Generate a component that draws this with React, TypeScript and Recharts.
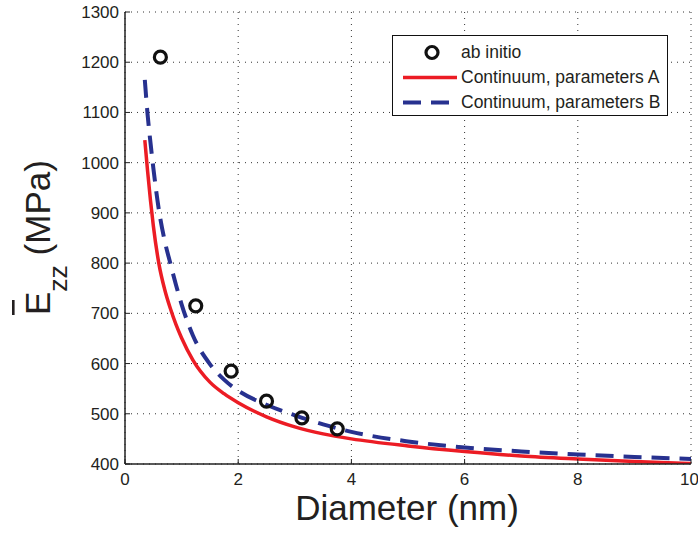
import React from 'react';
import { ComposedChart, Line, Scatter, XAxis, YAxis, CartesianGrid, Legend } from 'recharts';

const abInitioDiam = [0.625, 1.25, 1.875, 2.5, 3.125, 3.75];
const abInitioVal = [1210, 715, 585, 525, 492, 470];

const contADiam = [0.35, 0.4, 0.45, 0.5, 0.6, 0.7, 0.8, 0.9, 1.0, 1.2, 1.5, 1.75, 2.0, 2.5, 3.0, 3.5, 4.0, 5.0, 6.0, 7.0, 8.0, 9.0, 10.0];
const contAVal = [1045, 982, 925, 875, 798, 748, 710, 678, 651, 607, 563, 540, 522, 494, 474, 460, 450, 436, 425, 416, 410, 405, 401];

const contBDiam = [0.35, 0.4, 0.45, 0.5, 0.6, 0.7, 0.8, 0.9, 1.0, 1.2, 1.5, 1.75, 2.0, 2.5, 3.0, 3.5, 4.0, 5.0, 6.0, 7.0, 8.0, 9.0, 10.0];
const contBVal = [1165, 1095, 1040, 990, 905, 845, 800, 757, 718, 656, 599, 568, 546, 518, 497, 479, 464, 445, 433, 425, 419, 414, 410];

const xTicks = [0, 2, 4, 6, 8, 10];
const yTicks = [400, 500, 600, 700, 800, 900, 1000, 1100, 1200, 1300];

const seriesNames = ['ab initio', 'Continuum, parameters A', 'Continuum, parameters B'];

const abInitioData = abInitioDiam.map((d, i) => ({ d, v: abInitioVal[i] }));
const contAData = contADiam.map((d, i) => ({ d, v: contAVal[i] }));
const contBData = contBDiam.map((d, i) => ({ d, v: contBVal[i] }));

const FONT = '"Liberation Sans", Arial, sans-serif';
const RED = '#ec1c24';
const BLUE = '#27318f';
const TXT = '#231f20';

const Ring = (props: any) => {
  const { cx, cy } = props;
  if (cx == null || cy == null) return <g />;
  return <circle cx={cx} cy={cy} r={6} fill="none" stroke="#111" strokeWidth={3.2} />;
};

const LegendBox = () => (
  <div
    style={{
      width: 274,
      height: 79,
      border: '1px solid #111',
      background: '#fff',
      fontFamily: FONT,
      fontSize: 17.5,
      color: TXT,
      boxSizing: 'content-box',
    }}
  >
    {[0, 1, 2].map((i) => (
      <div key={i} style={{ display: 'flex', alignItems: 'center', height: 25, marginTop: i === 0 ? 4 : 0 }}>
        <svg width={68} height={25} style={{ display: 'block' }}>
          {i === 0 && <circle cx={39} cy={12.5} r={6} fill="none" stroke="#111" strokeWidth={3.2} />}
          {i === 1 && <line x1={10} x2={64} y1={12.5} y2={12.5} stroke={RED} strokeWidth={3.5} />}
          {i === 2 && <line x1={10} x2={64} y1={12.5} y2={12.5} stroke={BLUE} strokeWidth={4} strokeDasharray="18 10" />}
        </svg>
        <span style={{ lineHeight: '25px', whiteSpace: 'nowrap' }}>{seriesNames[i]}</span>
      </div>
    ))}
  </div>
);

const YLabel = () => (
  <g>
    <text
      transform="translate(50,315) rotate(-90)"
      x={0}
      y={0}
      fontFamily={FONT}
      fontSize={35}
      fill={TXT}
    >
      <tspan>E</tspan>
      <tspan fontSize={26.5} dy={16.5}>zz</tspan>
      <tspan dy={-16.5}> (MPa)</tspan>
    </text>
    <rect x={12} y={300} width={2.6} height={15} fill={TXT} />
  </g>
);

const XLabel = () => (
  <text x={407} y={520} textAnchor="middle" fontFamily={FONT} fontSize={35} fill={TXT}>
    Diameter (nm)
  </text>
);

const NoTick = () => <g />;

export default function App() {
  return (
    <div style={{ position: 'absolute', left: 0, top: 0, background: '#fff' }}>
      <ComposedChart width={698} height={534} margin={{ top: 12, right: 7, left: 0, bottom: 0 }}>
        <CartesianGrid stroke="#333" strokeDasharray="1 5" strokeWidth={1} />
        <XAxis
          xAxisId={0}
          dataKey="d"
          type="number"
          domain={[0, 10]}
          ticks={xTicks}
          allowDataOverflow
          height={70}
          tickSize={-5}
          tickMargin={14}
          axisLine={{ stroke: '#222', strokeWidth: 1.5 }}
          tickLine={{ stroke: '#222' }}
          tick={{ fontFamily: FONT, fontSize: 17, fill: TXT }}
          label={{ content: () => <XLabel /> }}
        />
        <XAxis
          xAxisId="top"
          orientation="top"
          dataKey="d"
          type="number"
          domain={[0, 10]}
          ticks={xTicks}
          allowDataOverflow
          height={0}
          tickSize={-5}
          axisLine={{ stroke: '#222', strokeWidth: 1.2 }}
          tickLine={{ stroke: '#222' }}
          tick={NoTick}
        />
        <YAxis
          yAxisId={0}
          type="number"
          domain={[400, 1300]}
          ticks={yTicks}
          allowDataOverflow
          width={125}
          tickSize={-5}
          tickMargin={11}
          axisLine={{ stroke: '#222', strokeWidth: 1.5 }}
          tickLine={{ stroke: '#222' }}
          tick={{ fontFamily: FONT, fontSize: 17, fill: TXT }}
          label={{ content: () => <YLabel /> }}
        />
        <YAxis
          yAxisId="right"
          orientation="right"
          type="number"
          domain={[400, 1300]}
          ticks={yTicks}
          allowDataOverflow
          width={0}
          tickSize={-5}
          axisLine={{ stroke: '#222', strokeWidth: 1.2 }}
          tickLine={{ stroke: '#222' }}
          tick={NoTick}
        />
        <Line
          data={contAData}
          dataKey="v"
          name={seriesNames[1]}
          type="monotone"
          stroke={RED}
          strokeWidth={3.5}
          dot={false}
          activeDot={false}
          isAnimationActive={false}
        />
        <Line
          data={contBData}
          dataKey="v"
          name={seriesNames[2]}
          type="monotone"
          stroke={BLUE}
          strokeWidth={4}
          strokeDasharray="18 10"
          dot={false}
          activeDot={false}
          isAnimationActive={false}
        />
        <Scatter
          data={abInitioData}
          dataKey="v"
          name={seriesNames[0]}
          shape={<Ring />}
          isAnimationActive={false}
        />
        <Legend
          layout="horizontal"
          verticalAlign="middle"
          align="center"
          content={() => <LegendBox />}
          wrapperStyle={{ position: 'absolute', left: 392, top: 35, width: 276, height: 81 }}
        />
      </ComposedChart>
    </div>
  );
}
